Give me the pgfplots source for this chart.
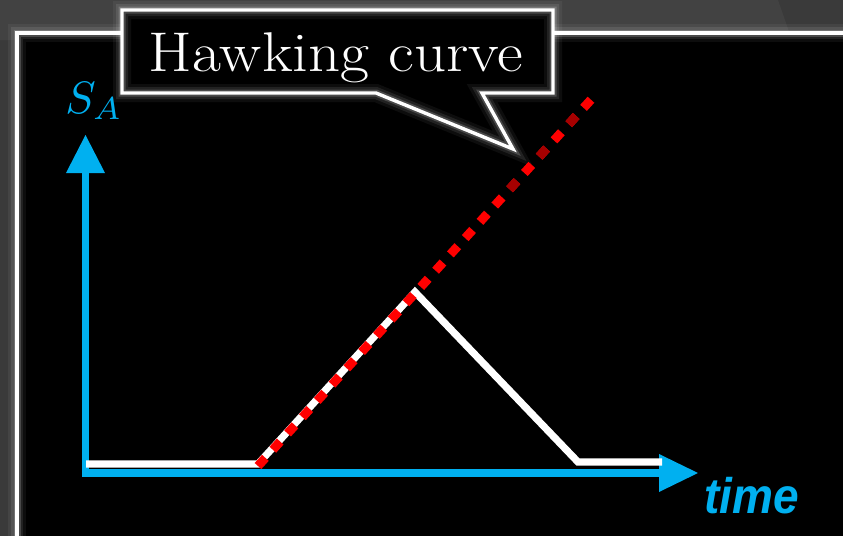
\documentclass[border=0pt]{standalone}
\usepackage{pgfplots}
\pgfplotsset{compat=1.18}
\usepackage{fontspec}
\newfontfamily\timefont{Liberation Sans}
\definecolor{axisblue}{RGB}{0,176,240}
\definecolor{bgdark}{RGB}{58,58,58}
\definecolor{bgmid}{RGB}{66,66,66}

\begin{document}
\begin{tikzpicture}
\begin{axis}[
  at={(0,0)}, anchor=south west,
  scale only axis, width=421.5pt, height=268pt,
  xmin=0, xmax=843, ymin=0, ymax=536, y dir=reverse,
  hide axis, clip=false,
]
% slide background
\fill[bgdark] (axis cs:0,0) rectangle (axis cs:843,536);
\fill[bgmid] (axis cs:0,0) -- (axis cs:778,0) -- (axis cs:792,40) -- (axis cs:0,40) -- cycle;

% main panel with soft glow
\fill[black] (axis cs:17,33) rectangle (axis cs:860,560);
\draw[white, opacity=0.05, line width=9pt] (axis cs:17,33) rectangle (axis cs:860,560);
\draw[white, opacity=0.09, line width=6pt] (axis cs:17,33) rectangle (axis cs:860,560);
\draw[white, opacity=0.18, line width=3.5pt] (axis cs:17,33) rectangle (axis cs:860,560);
\draw[white, line width=1.7pt] (axis cs:17,33) rectangle (axis cs:860,560);

% speech bubble
\fill[black] (axis cs:122,10) -- (axis cs:553,10) -- (axis cs:553,93) -- (axis cs:482,93)
  -- (axis cs:513,149) -- (axis cs:376,93) -- (axis cs:122,93) -- cycle;
\draw[white, opacity=0.05, line width=9pt, line join=miter] (axis cs:122,10) -- (axis cs:553,10) -- (axis cs:553,93) -- (axis cs:482,93)
  -- (axis cs:513,149) -- (axis cs:376,93) -- (axis cs:122,93) -- cycle;
\draw[white, opacity=0.09, line width=6pt, line join=miter] (axis cs:122,10) -- (axis cs:553,10) -- (axis cs:553,93) -- (axis cs:482,93)
  -- (axis cs:513,149) -- (axis cs:376,93) -- (axis cs:122,93) -- cycle;
\draw[white, opacity=0.18, line width=3.5pt, line join=miter] (axis cs:122,10) -- (axis cs:553,10) -- (axis cs:553,93) -- (axis cs:482,93)
  -- (axis cs:513,149) -- (axis cs:376,93) -- (axis cs:122,93) -- cycle;
\draw[white, line width=1.7pt, line join=miter] (axis cs:122,10) -- (axis cs:553,10) -- (axis cs:553,93) -- (axis cs:482,93)
  -- (axis cs:513,149) -- (axis cs:376,93) -- (axis cs:122,93) -- cycle;
\node[white, anchor=base, inner sep=0pt] at (axis cs:336,71)
  {\scalebox{1.125}[1]{\fontsize{28}{30}\selectfont Hawking curve}};

% coordinate axes
\draw[axisblue, line width=3.75pt, line join=miter] (axis cs:85.5,170) -- (axis cs:85.5,473) -- (axis cs:662,473);
\fill[axisblue] (axis cs:659,454) -- (axis cs:698,473) -- (axis cs:659,492) -- cycle;
\fill[axisblue] (axis cs:66,173) -- (axis cs:85.5,135) -- (axis cs:105,173) -- cycle;
\node[axisblue, anchor=base west, inner sep=0pt] at (axis cs:65,113) {\scalebox{2.27}{$S_{A}$}};
\node[axisblue, anchor=base west, inner sep=0pt] at (axis cs:704,513)
  {\scalebox{0.92}[1]{\timefont\bfseries\itshape\fontsize{25}{27}\selectfont time}};

% entanglement entropy of the radiation
\addplot[white, line width=3.6pt, line join=miter] coordinates {
  (86,464) (258,464) (415,292) (578,462) (662,462)
};
% Hawking's prediction
\addplot[red, line width=4.5pt, dash pattern=on 5.5pt off 5.5pt] coordinates {
  (258,466) (598,92)
};
\addplot[red!65!black, line width=4.5pt, dash pattern=on 5.5pt off 16.5pt] coordinates {
  (509.6,189.2) (598,92)
};
\end{axis}
\pgfresetboundingbox
\path[use as bounding box] (0,0) rectangle (421.5pt,268pt);
\end{tikzpicture}
\end{document}
